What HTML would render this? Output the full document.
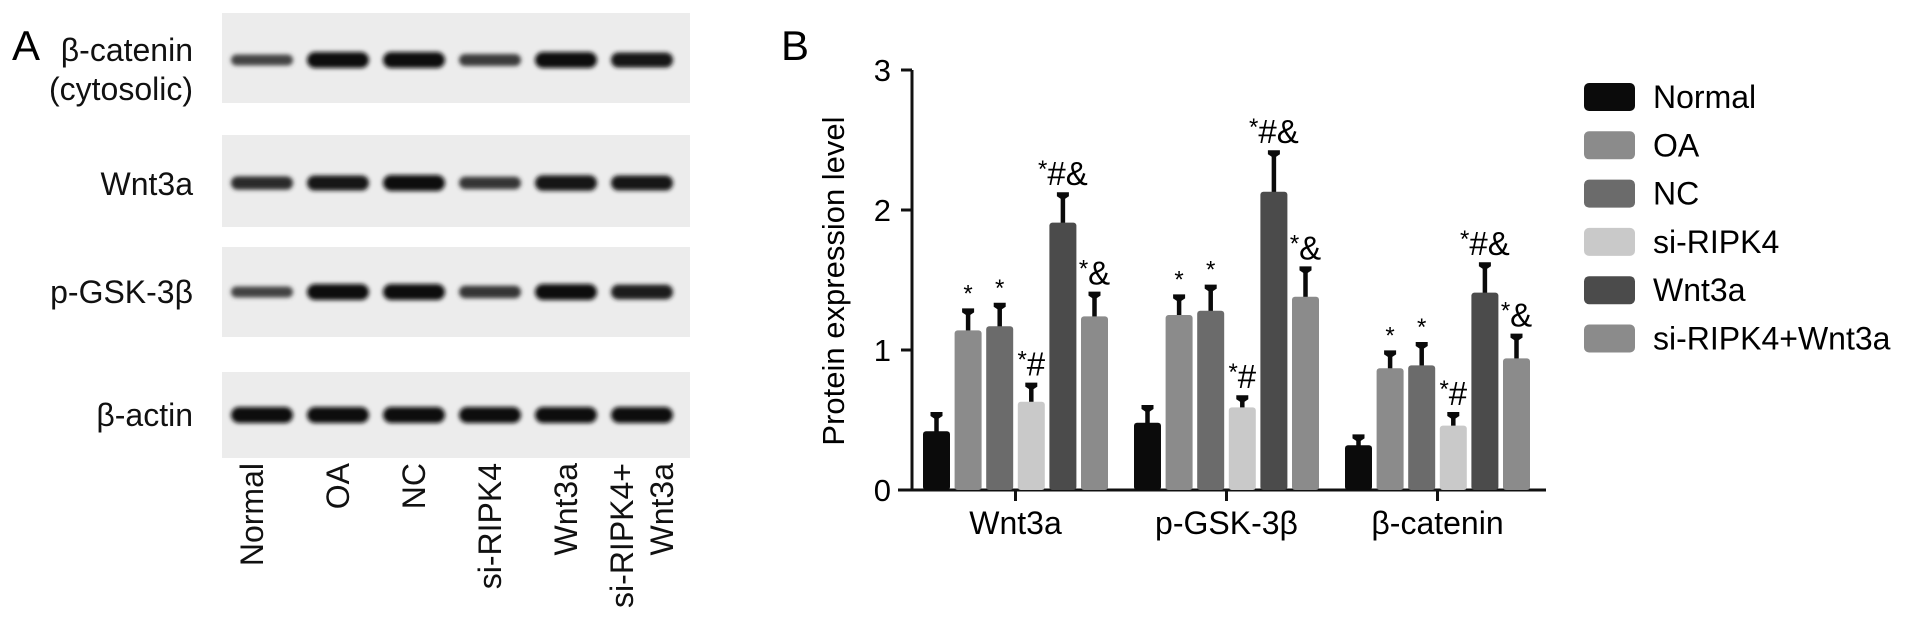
<!DOCTYPE html>
<html><head><meta charset="utf-8"><style>
html,body{margin:0;padding:0;background:#fff;}
svg{display:block;font-family:"Liberation Sans",Arial,sans-serif;}
</style></head><body>
<svg id="fig" width="1913" height="627" viewBox="0 0 1913 627" xmlns="http://www.w3.org/2000/svg">
<defs>
<filter id="blur" x="-10%" y="-50%" width="120%" height="200%"><feGaussianBlur stdDeviation="2.2"/></filter>
</defs>
<text x="12" y="60" font-size="42">A</text>
<g id="blotLabels" font-size="32" text-anchor="end" fill="#111">
<text x="193" y="61">β-catenin</text>
<text x="193" y="100">(cytosolic)</text>
<text x="193" y="195">Wnt3a</text>
<text x="193" y="303">p-GSK-3β</text>
<text x="193" y="426">β-actin</text>
</g>
<g id="blots"></g>
<g id="laneLabels" font-size="32" text-anchor="end" fill="#111"></g>
<text x="781" y="60" font-size="42">B</text>
<text transform="translate(844,281) rotate(-90)" font-size="31" text-anchor="middle">Protein expression level</text>
<g id="chart"></g>
<g id="legend" font-size="32"></g>
</svg>
<script>
// Chart data
const categories = ["Wnt3a", "p-GSK-3β", "β-catenin"];
const seriesNames = ["Normal", "OA", "NC", "si-RIPK4", "Wnt3a", "si-RIPK4+Wnt3a"];
const normalVals = [0.42, 0.48, 0.32];
const oaVals = [1.14, 1.25, 0.87];
const ncVals = [1.17, 1.28, 0.89];
const siVals = [0.63, 0.59, 0.46];
const wntVals = [1.91, 2.13, 1.41];
const siWntVals = [1.24, 1.38, 0.94];
const normalErr = [0.13, 0.12, 0.07];
const oaErr = [0.15, 0.14, 0.12];
const ncErr = [0.16, 0.18, 0.16];
const siErr = [0.13, 0.08, 0.09];
const wntErr = [0.21, 0.29, 0.21];
const siWntErr = [0.17, 0.21, 0.17];
const sigLabels = ["", "*", "*", "*#", "*#&", "*&"];
const yTicks = [0, 1, 2, 3];
// Blot data (relative band intensity per lane)
const blotRows = ["beta-catenin", "wnt3a", "p-gsk", "beta-actin"];
const laneNames = ["Normal", "OA", "NC", "si-RIPK4", "Wnt3a", "si-RIPK4+|Wnt3a"];
const bandBetaCat = [0.45, 1, 1, 0.55, 1, 0.9];
const bandWnt = [0.7, 0.9, 1, 0.6, 0.95, 0.9];
const bandGsk = [0.45, 1, 1, 0.6, 1, 0.85];
const bandActin = [1, 1, 1, 1, 1, 1];

const NS = "http://www.w3.org/2000/svg";
function mk(tag, attrs, parent){const e=document.createElementNS(NS,tag);for(const k in attrs)e.setAttribute(k,attrs[k]);parent.appendChild(e);return e;}

// ---- Blots
const blotG = document.getElementById('blots');
const rowBoxes = [[13,103],[135,227],[247,337],[372,458]];
const bandY = [60,183,292,415];
const bandSets = [bandBetaCat, bandWnt, bandGsk, bandActin];
function laneX(i){return 262 + i*76;}
rowBoxes.forEach((b,r)=>{
  const box = mk('rect',{x:222,y:b[0],width:468,height:b[1]-b[0],fill:'#ececec'},blotG);
  
  
  bandSets[r].forEach((v,i)=>{
    const h = 7 + 9*v;
    const g = Math.round(110 - 95*v);
    const band = mk('rect',{x:laneX(i)-31,y:bandY[r]-h/2,width:62,height:h,rx:h/2,fill:`rgb(${g},${g},${g})`,filter:'url(#blur)'},blotG);
    
    
  });
});
const laneG = document.getElementById('laneLabels');
laneNames.forEach((n,i)=>{
  const parts = n.split('|');
  parts.forEach((p,j)=>{
    const cx = parts.length>1 ? laneX(i)-20+j*40 : laneX(i)+(i===0?-10:0);
    const t = mk('text',{transform:`translate(${cx+11},463) rotate(-90)`},laneG);
    t.textContent = p;
    
    
  });
});

// ---- Bar chart
const chart = document.getElementById('chart');
const y0 = 490, yUnit = 140, axisX = 912;
function yPos(v){return y0 - v*yUnit;}
const groupStart = 923, groupPitch = 211, barPitch = 31.6, barW = 27;
function xPos(g,s){return groupStart + g*groupPitch + s*barPitch;}
const colors = ["#0b0b0b","#8b8b8b","#6b6b6b","#c9c9c9","#4b4b4b","#8b8b8b"];
const vals = [normalVals, oaVals, ncVals, siVals, wntVals, siWntVals];
const errs = [normalErr, oaErr, ncErr, siErr, wntErr, siWntErr];

const ya = mk('line',{x1:axisX,y1:yPos(3),x2:axisX,y2:y0+1.5,stroke:'#111','stroke-width':3},chart);


yTicks.forEach(t=>{
  const tk = mk('line',{x1:axisX-11,y1:yPos(t),x2:axisX,y2:yPos(t),stroke:'#111','stroke-width':3},chart);
  
  
  const tl = mk('text',{x:891,y:yPos(t)+11,'font-size':31,'text-anchor':'end'},chart);
  tl.textContent = t;
  
  
});
const xa = mk('line',{x1:898,y1:y0,x2:1546,y2:y0,stroke:'#111','stroke-width':3},chart);


categories.forEach((c,g)=>{
  const cx = xPos(g,0) + (5*barPitch+barW)/2;
  const tk = mk('line',{x1:cx,y1:y0,x2:cx,y2:y0+11,stroke:'#111','stroke-width':3},chart);
  
  
  const tl = mk('text',{x:cx,y:534,'font-size':32,'text-anchor':'middle'},chart);
  tl.textContent = c;
  
  
});
vals.forEach((arr,s)=>{
  arr.forEach((v,g)=>{
    const x = xPos(g,s), top = yPos(v), et = yPos(v+errs[s][g]);
    const cx = x + barW/2;
    const el = mk('line',{x1:cx,y1:top+2,x2:cx,y2:et,stroke:'#0a0a0a','stroke-width':4.5},chart);
    
    
    const cap = mk('path',{d:`M${cx-6},${et-1} L${cx+6},${et-1} L${cx+6},${et+3} L${cx},${et+7} L${cx-6},${et+3} Z`,fill:'#0a0a0a'},chart);
    
    
    const bar = mk('rect',{x:x,y:top,width:barW,height:y0-top,rx:3,fill:colors[s]},chart);
    
    
    const lab = sigLabels[s];
    if(lab){
      const t = mk('text',{x:cx,y:et-8,'text-anchor':'middle','font-size':33},chart);
      
      
      const st = mk('tspan',{'font-size':24,dy:lab.length>1?-8:0},t);
      st.textContent='*';
      if(lab.length>1){const r=mk('tspan',{dy:8},t);r.textContent=lab.slice(1);}
    }
  });
});

// legend
const leg = document.getElementById('legend');
seriesNames.forEach((n,i)=>{
  const y = 83 + i*48.3;
  const sw = mk('rect',{x:1584,y:y,width:51,height:28,rx:5,fill:colors[i]},leg);
  
  
  const t = mk('text',{x:1653,y:y+25},leg);
  t.textContent = n;
  
  
});
</script>
</body></html>
